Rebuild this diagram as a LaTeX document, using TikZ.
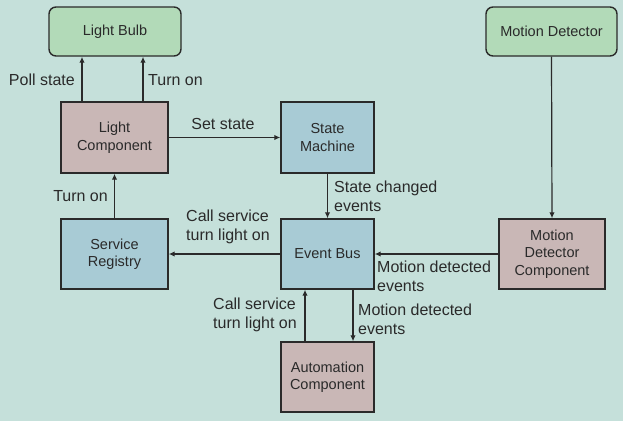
\documentclass[tikz,border=0pt]{standalone}
\usepackage{fontspec}
\setmainfont{Liberation Sans}
\usetikzlibrary{arrows.meta,calc}
\definecolor{bgc}{HTML}{C5E0DA}
\definecolor{greenbox}{HTML}{B2DAB8}
\definecolor{mauvebox}{HTML}{C9B7B6}
\definecolor{bluebox}{HTML}{A8CBD5}
\definecolor{ink}{HTML}{2A2A2A}
\tikzset{
  boxbase/.style={draw=ink, line width=1.4pt, text=ink, align=center,
    font=\fontsize{14.5}{17.5}\selectfont, inner sep=2pt},
  devicebox/.style={boxbase, fill=greenbox, rounded corners=7pt},
  compbox/.style={boxbase, fill=mauvebox},
  corebox/.style={boxbase, fill=bluebox},
  arr/.style={draw=ink, line width=1.2pt, -{Latex[length=6pt,width=5.5pt]}},
  lbl/.style={text=ink, align=left, font=\fontsize{16}{19}\selectfont, inner sep=0pt}
}
\begin{document}
\begin{tikzpicture}[x=1pt,y=-1pt]
\fill[bgc] (0,0) rectangle (623,421);
\useasboundingbox (0,0) rectangle (623,421);

\node[devicebox, minimum width=132pt, minimum height=49pt] (lb) at (115,31.5) {Light Bulb};
\node[devicebox, minimum width=131pt, minimum height=49pt] (md) at (551.5,31.5) {Motion Detector};
\node[compbox, minimum width=107pt, minimum height=71pt] (lc) at (114.5,137.5) {Light\\Component};
\node[corebox, minimum width=93pt, minimum height=71pt] (sm) at (327.5,137.5) {State\\Machine};
\node[corebox, minimum width=107pt, minimum height=70pt] (sr) at (114.5,254) {Service\\Registry};
\node[corebox, minimum width=93pt, minimum height=70pt] (eb) at (327.5,254) {Event Bus};
\node[compbox, minimum width=106pt, minimum height=70pt] (mdc) at (552,254) {Motion\\Detector\\Component};
\node[compbox, minimum width=93pt, minimum height=70pt] (ac) at (327.5,377) {Automation\\Component};

% Light Component -> Light Bulb
\draw[arr] ([xshift=-32.5pt]lc.north) -- ([xshift=-32.5pt]lc.north |- lb.south);
\draw[arr] ([xshift=28.5pt]lc.north) -- ([xshift=28.5pt]lc.north |- lb.south);
\node[lbl, anchor=east] (lpoll) at (75,80) {Poll state};
\node[lbl, anchor=west] (lturn1) at (148,80) {Turn on};

% Light Component -> State Machine
\draw[arr] (lc.east) -- (sm.west);
\node[lbl, anchor=center] (lset) at (223,124) {Set state};

% State Machine -> Event Bus
\draw[arr] (sm.south) -- (eb.north);
\node[lbl, anchor=west] (lsce) at (334,196) {State changed\\events};

% Motion Detector -> Motion Detector Component
\draw[arr] (md.south) -- (mdc.north);

% Service Registry -> Light Component
\draw[arr] (sr.north) -- (lc.south);
\node[lbl, anchor=east] (lturn2) at (108,196) {Turn on};

% Event Bus -> Service Registry
\draw[arr] (eb.west) -- (sr.east);
\node[lbl, anchor=west] (lcall1) at (186,227) {Call service\\turn light on};

% Motion Detector Component -> Event Bus
\draw[arr] (mdc.west) -- (eb.east);
\node[lbl, anchor=west] (lmde1) at (377,276) {Motion detected\\events};

% Automation <-> Event Bus
\draw[arr] ([xshift=-22.5pt]ac.north) -- ([xshift=-22.5pt]eb.south);
\node[lbl, anchor=west] (lcall2) at (213,315) {Call service\\turn light on};
\draw[arr] ([xshift=25.5pt]eb.south) -- ([xshift=25.5pt]ac.north);
\node[lbl, anchor=west] (lmde2) at (358,319) {Motion detected\\events};
\end{tikzpicture}
\end{document}
